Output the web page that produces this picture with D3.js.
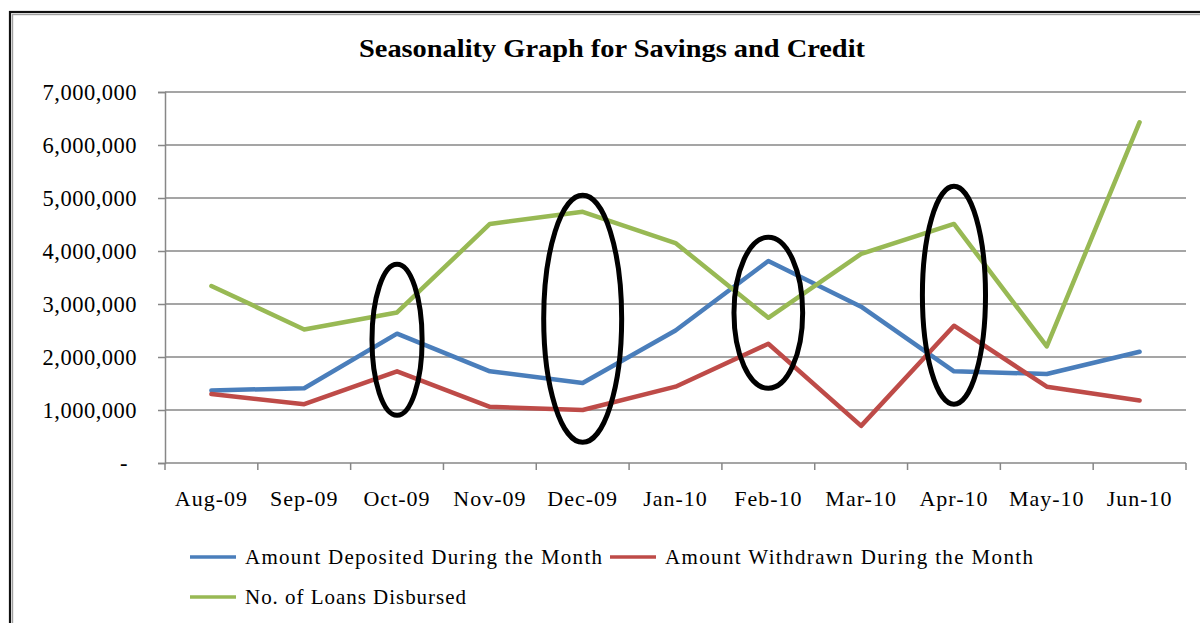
<!DOCTYPE html>
<html>
<head>
<meta charset="utf-8">
<script src="https://cdn.jsdelivr.net/npm/d3@7"></script>
<style>
  body { margin: 0; background: #fff; }
  svg { display: block; font-family: "Liberation Serif", "Times New Roman", serif; }
</style>
</head>
<body>
<div class="chart"></div>
<script>
// data
const months = ["Aug-09","Sep-09","Oct-09","Nov-09","Dec-09","Jan-10","Feb-10","Mar-10","Apr-10","May-10","Jun-10"];
const deposited = [1370000,1410000,2440000,1730000,1510000,2500000,3810000,2950000,1730000,1680000,2100000];
const withdrawn = [1300000,1110000,1730000,1060000,1000000,1440000,2250000,700000,2590000,1440000,1180000];
const loans = [3340000,2520000,2840000,4510000,4740000,4150000,2740000,3945000,4510000,2200000,6430000];
const seriesNames = ["Amount Deposited During  the Month","Amount Withdrawn During the Month","No. of Loans Disbursed"];
const yTicks = [0,1000000,2000000,3000000,4000000,5000000,6000000,7000000];
// hand drawn rings: month, top and bottom value, half width as part of a band
const ringMonths = ["Oct-09","Dec-09","Feb-10","Apr-10"];
const ringTop = [3750000,5050000,4260000,5220000];
const ringBottom = [900000,390000,1410000,1110000];
const ringWidth = [0.27,0.42,0.37,0.34];

let outWidth = 1200, outHeight = 623;
let margin = {top:92, left:165, right:14, bottom:160};
let plotRight = outWidth - margin.right,
    plotBottom = outHeight - margin.bottom;

const colors = ["#4a7ebb","#be4b48","#98b954"];
const gridColor = "#878787";

const svg = d3.select(".chart").append("svg")
    .attr("width", outWidth)
    .attr("height", outHeight);

// outer frame (double line)
svg.append("rect")
    .attr("x",10).attr("y",12)
    .attr("width",1400).attr("height",800)
    .attr("fill","none")
    .attr("stroke","#111")
    .attr("stroke-width",2.2);
svg.append("rect")
    .attr("x",12.5).attr("y",14.5)
    .attr("width",1400).attr("height",800)
    .attr("fill","none")
    .attr("stroke","#a0a0a0")
    .attr("stroke-width",1.4);

svg.append("text")
    .attr("x",612).attr("y",57)
    .attr("text-anchor","middle")
    .attr("font-weight","bold")
    .attr("font-size",25)
    .attr("textLength",506)
    .attr("lengthAdjust","spacingAndGlyphs")
    .text("Seasonality Graph  for Savings and Credit");

let x = d3.scaleBand()
    .domain(months)
    .range([margin.left, plotRight]);
let bw = x.bandwidth();
let cx = d => x(d) + bw/2;

let y = d3.scaleLinear()
    .domain([0,7000000])
    .range([plotBottom, margin.top]);

// gridlines
svg.append("g")
    .selectAll("line")
    .data(yTicks.filter(d => d > 0))
    .join("line")
    .attr("x1", margin.left).attr("x2", plotRight)
    .attr("y1", d => y(d)).attr("y2", d => y(d))
    .attr("stroke", gridColor)
    .attr("stroke-width",1.5);

// y axis
const yAxis = svg.append("g")
    .attr("transform",`translate(${margin.left},0)`)
    .call(d3.axisLeft(y)
        .tickValues(yTicks)
        .tickSize(7)
        .tickPadding(21)
        .tickFormat(d => d === 0 ? "-" : d3.format(",")(d)));
yAxis.select(".domain").attr("stroke",gridColor).attr("stroke-width",1.5);
yAxis.selectAll(".tick line").attr("stroke",gridColor).attr("stroke-width",1.5);
yAxis.selectAll(".tick text")
    .attr("font-family","Liberation Serif")
    .attr("font-size",22.5)
    .attr("letter-spacing",0.5)
    .attr("fill","#000");
yAxis.selectAll(".tick").filter(d => d === 0).select("text").attr("dx",-9);

// x axis: ticks on band edges, labels in the middle
const xAxis = svg.append("g");
xAxis.append("line")
    .attr("x1",margin.left).attr("x2",plotRight)
    .attr("y1",plotBottom).attr("y2",plotBottom)
    .attr("stroke",gridColor).attr("stroke-width",1.5);
xAxis.selectAll(".xtick")
    .data(months.concat(["end"]))
    .join("line")
    .attr("class","xtick")
    .attr("x1",(d,i) => margin.left + i*bw)
    .attr("x2",(d,i) => margin.left + i*bw)
    .attr("y1",plotBottom).attr("y2",plotBottom+7)
    .attr("stroke",gridColor).attr("stroke-width",1.5);
xAxis.selectAll(".xlabel")
    .data(months)
    .join("text")
    .attr("class","xlabel")
    .attr("x", d => cx(d))
    .attr("y", plotBottom + 43)
    .attr("text-anchor","middle")
    .attr("font-size",22)
    .attr("letter-spacing",1)
    .text(d => d);

// series lines
const line = d3.line()
    .x((d,i) => cx(months[i]))
    .y(d => y(d));

svg.append("g")
    .selectAll("path")
    .data([deposited, withdrawn, loans])
    .join("path")
    .attr("d", d => line(d))
    .attr("fill","none")
    .attr("stroke",(d,i) => colors[i])
    .attr("stroke-width",4.5)
    .attr("stroke-linejoin","round")
    .attr("stroke-linecap","round");

// black rings round the months
svg.append("g")
    .selectAll("ellipse")
    .data(ringMonths)
    .join("ellipse")
    .attr("cx", d => cx(d))
    .attr("cy", (d,i) => (y(ringTop[i]) + y(ringBottom[i]))/2)
    .attr("rx", (d,i) => ringWidth[i]*bw)
    .attr("ry", (d,i) => (y(ringBottom[i]) - y(ringTop[i]))/2)
    .attr("fill","none")
    .attr("stroke","#000")
    .attr("stroke-width",5);

// legend
let legendPos = [[190,557],[610,557],[190,597]];
let legendLen = [357,368,221];
const legend = svg.append("g")
    .selectAll("g")
    .data(seriesNames)
    .join("g")
    .attr("transform",(d,i) => `translate(${legendPos[i][0]},${legendPos[i][1]})`);
legend.append("line")
    .attr("x1",0).attr("x2",46)
    .attr("stroke",(d,i) => colors[i])
    .attr("stroke-width",3.5);
legend.append("text")
    .attr("x",55).attr("y",7)
    .attr("font-size",21)
    .attr("textLength",(d,i) => legendLen[i])
    .attr("lengthAdjust","spacing")
    .text(d => d);
</script>
</body>
</html>
